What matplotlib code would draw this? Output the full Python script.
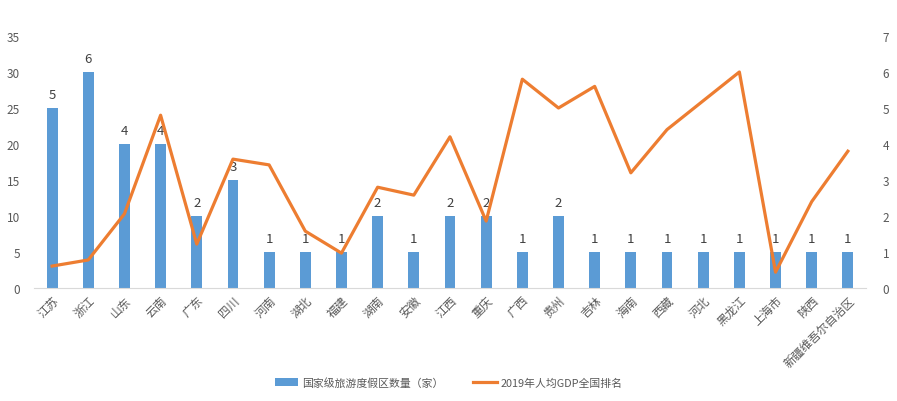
import matplotlib
matplotlib.use("Agg")
import matplotlib.pyplot as plt
import numpy as np

plt.rcParams['font.family'] = ['Noto Sans CJK SC', 'DejaVu Sans']

provinces = ["江苏", "浙江", "山东", "云南", "广东", "四川", "河南", "湖北", "福建", "湖南",
             "安徽", "江西", "重庆", "广西", "贵州", "吉林", "海南", "西藏", "河北", "黑龙江",
             "上海市", "陕西", "新疆维吾尔自治区"]
bar_values = [25, 30, 20, 20, 10, 15, 5, 5, 5, 10, 5, 10, 10, 5, 10, 5, 5, 5, 5, 5, 5, 5, 5]
bar_labels = [5, 6, 4, 4, 2, 3, 1, 1, 1, 2, 1, 2, 2, 1, 2, 1, 1, 1, 1, 1, 1, 1, 1]
gdp_rank = [0.61, 0.78, 2.06, 4.8, 1.22, 3.58, 3.42, 1.58, 0.97, 2.8, 2.58, 4.2, 1.86,
            5.8, 5.0, 5.6, 3.2, 4.4, 5.2, 6.0, 0.44, 2.4, 3.8]

bar_color = "#5B9BD5"
line_color = "#ED7D31"
text_color = "#595959"

fig = plt.figure(figsize=(8.97, 4.02), dpi=100)
ax = fig.add_axes([0.0379, 0.281, 0.9275, 0.627])
x = np.arange(len(provinces))

ax.bar(x, bar_values, width=0.3, color=bar_color, label="国家级旅游度假区数量（家）", zorder=2)
for xi, v, lab in zip(x, bar_values, bar_labels):
    ax.annotate(str(lab), (xi, v), xytext=(0, 5), textcoords="offset points",
                ha="center", va="bottom", fontsize=9.5, color="#404040")

ax.set_ylim(0, 35)
ax.set_yticks(range(0, 36, 5))
ax.set_xlim(-0.5, len(provinces) - 0.5)
ax.set_xticks(x)
ax.set_xticklabels(provinces, rotation=45, ha="right", rotation_mode="anchor",
                   fontsize=8.5, color=text_color)
ax.tick_params(axis="y", length=0, labelsize=8.5, labelcolor=text_color, pad=10)
ax.tick_params(axis="x", length=0, pad=4)
for s in ["top", "right", "left"]:
    ax.spines[s].set_visible(False)
ax.spines["bottom"].set_color("#D9D9D9")

ax2 = ax.twinx()
ax2.plot(x, gdp_rank, color=line_color, lw=2.3, label="2019年人均GDP全国排名", zorder=3)
ax2.set_ylim(0, 7)
ax2.set_yticks(range(0, 8))
ax2.tick_params(axis="y", length=0, labelsize=8.5, labelcolor=text_color, pad=12)
for s in ["top", "right", "left", "bottom"]:
    ax2.spines[s].set_visible(False)

h1, l1 = ax.get_legend_handles_labels()
h2, l2 = ax2.get_legend_handles_labels()
fig.legend(h1 + h2, l1 + l2, loc="center", bbox_to_anchor=(0.5, 0.047), ncol=2,
           frameon=False, fontsize=7.8, handlelength=2.2, handletextpad=0.3,
           columnspacing=2.8, labelcolor=text_color)

fig.savefig("out.png", dpi=100)
